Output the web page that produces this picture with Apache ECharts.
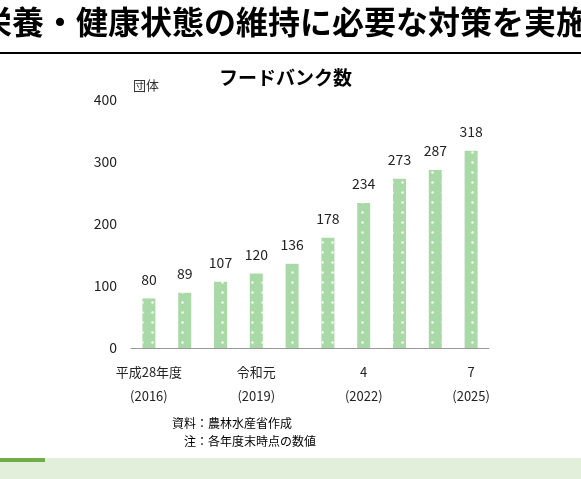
<!DOCTYPE html>
<html><head><meta charset="utf-8">
<script src="https://cdn.jsdelivr.net/npm/echarts@6/dist/echarts.min.js"></script>
<style>html,body{margin:0;padding:0;background:#fff}#c{width:581px;height:479px}</style>
</head><body><div id="c"></div>
<script>
const categories = ['2016','2017','2018','2019','2020','2021','2022','2023','2024','2025'];
const values = [80,89,107,120,136,178,234,273,287,318];
const tickLabels = {'2016':'平成28年度\n(2016)','2019':'令和元\n(2019)','2022':'4\n(2022)','2025':'7\n(2025)'};
const yTicks = [0,100,200,300,400];
const font = '"Noto Sans CJK JP", sans-serif';
const chart = echarts.init(document.getElementById('c'));
chart.setOption({
  animation:false,
  grid:{left:131,right:92,top:100,bottom:131},
  title:{text:'フードバンク数',left:214,top:63,textStyle:{fontFamily:font,fontSize:19,fontWeight:'bold',color:'#000'}},
  xAxis:{type:'category',data:categories,
    axisLine:{lineStyle:{color:'#999'}},axisTick:{show:false},
    axisLabel:{interval:0,fontFamily:font,fontSize:13,color:'#222',lineHeight:24,margin:12,
      formatter:v=>tickLabels[v]||''}},
  yAxis:{type:'value',min:0,max:400,interval:100,name:'団体',
    nameTextStyle:{fontFamily:font,fontSize:13,color:'#333',align:'right',padding:[0,-28,0,0]},
    nameGap:8,
    axisLine:{show:false},axisTick:{show:false},splitLine:{show:false},
    axisLabel:{fontFamily:font,fontSize:14,color:'#222',margin:14,formatter:v=>yTicks.includes(v)?String(v):''}},
  series:[{type:'bar',data:values,barWidth:13,
    itemStyle:{color:'#a8d9a6',decal:{symbol:'circle',symbolSize:0.5,color:'rgba(255,255,255,0.9)',dashArrayX:5,dashArrayY:5}},
    label:{show:true,position:'top',distance:12,fontFamily:font,fontSize:14,color:'#222'}}],
  graphic:[
    {type:'text',left:-20,top:6,style:{text:'栄養・健康状態の維持に必要な対策を実施',font:'bold 32px '+font,fill:'#000'}},
    {type:'rect',shape:{x:0,y:52,width:581,height:2},style:{fill:'#000'}},
    {type:'text',left:172,top:414,style:{text:'資料：農林水産省作成\n　注：各年度末時点の数値',font:'12px '+font,fill:'#000',lineHeight:18}},
    {type:'rect',shape:{x:0,y:458,width:581,height:21},style:{fill:'#e2efda'}},
    {type:'rect',shape:{x:0,y:458,width:45,height:4},style:{fill:'#70ad47'}}
  ]
});
</script></body></html>
